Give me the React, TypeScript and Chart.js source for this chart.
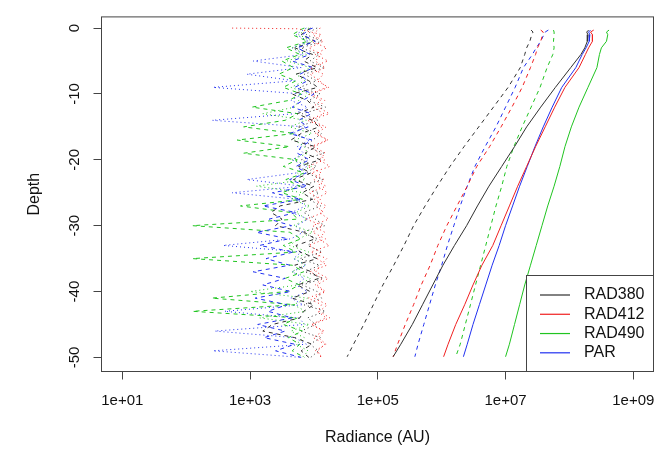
import React, { useEffect, useRef } from "react";
import { Chart, registerables } from "chart.js";

Chart.register(...registerables);

const FONT = "'Liberation Sans', Arial, Helvetica, sans-serif";

// ---- legend / series ----
const seriesNames = ["RAD380", "RAD412", "RAD490", "PAR"];
const seriesColors = ["#303030", "#f02020", "#20c420", "#2030f0"];

// ---- axes ----
const xTickValues = [1e1, 1e3, 1e5, 1e7, 1e9];
const xTickLabels = ["1e+01", "1e+03", "1e+05", "1e+07", "1e+09"];
const yTickValues = [0, -10, -20, -30, -40, -50];
const yTickLabels = ["0", "-10", "-20", "-30", "-40", "-50"];
const xMin = 4.725;
const xMax = 2.07e9;
const yMin = -52.14;
const yMax = 1.7;

// ---- smooth profiles (log10 radiance) ----
const profileDepths = [-0.3, -0.6, -1, -2, -3, -4, -6, -9, -12, -15, -18, -21, -24, -27, -30, -33, -36, -39, -42, -45, -48, -49.9];

const rad380Solid = [8.30, 8.27, 8.29, 8.28, 8.24, 8.18, 8.02, 7.78, 7.55, 7.33, 7.14, 6.94, 6.74, 6.56, 6.39, 6.20, 6.02, 5.86, 5.70, 5.54, 5.36, 5.24];
const rad412Solid = [8.38, 8.33, 8.36, 8.36, 8.30, 8.25, 8.15, 7.93, 7.77, 7.62, 7.47, 7.33, 7.19, 7.06, 6.93, 6.80, 6.63, 6.49, 6.36, 6.22, 6.10, 6.03];
const rad490Solid = [8.62, 8.58, 8.60, 8.58, 8.50, 8.47, 8.43, 8.29, 8.15, 8.03, 7.93, 7.85, 7.76, 7.66, 7.57, 7.48, 7.39, 7.30, 7.22, 7.14, 7.06, 7.00];
const parSolid = [8.33, 8.30, 8.32, 8.31, 8.26, 8.20, 8.10, 7.88, 7.73, 7.59, 7.46, 7.34, 7.22, 7.11, 7.00, 6.90, 6.79, 6.69, 6.59, 6.49, 6.40, 6.34];

const rad380Dash = [7.40, 7.43, 7.41, 7.38, 7.33, 7.30, 7.23, 7.04, 6.81, 6.58, 6.35, 6.13, 5.93, 5.74, 5.56, 5.41, 5.25, 5.08, 4.93, 4.78, 4.62, 4.52];
const rad412Dash = [7.55, 7.59, 7.58, 7.55, 7.50, 7.47, 7.39, 7.26, 7.10, 6.93, 6.75, 6.55, 6.40, 6.24, 6.08, 5.94, 5.82, 5.68, 5.56, 5.43, 5.31, 5.24];
const rad490Dash = [7.75, 7.76, 7.76, 7.75, 7.76, 7.74, 7.65, 7.54, 7.40, 7.26, 7.13, 7.02, 6.94, 6.85, 6.77, 6.69, 6.61, 6.53, 6.45, 6.37, 6.29, 6.22];
const parDash = [7.67, 7.62, 7.60, 7.55, 7.48, 7.42, 7.28, 7.15, 7.00, 6.85, 6.68, 6.52, 6.40, 6.29, 6.19, 6.09, 6.00, 5.90, 5.81, 5.72, 5.63, 5.58];

// ---- noisy dark readings (log10 radiance) ----
const noiseDepths = [0, -0.1, -1, -2, -3, -4, -5, -6, -7, -8, -9, -10, -11, -12, -13, -14, -15, -16, -17, -18, -19, -20, -21, -22, -23, -24, -25, -26, -27, -28, -29, -30, -31, -32, -33, -34, -35, -36, -37, -38, -39, -40, -41, -42, -43, -44, -45, -46, -47, -48, -49, -50];

const rad380NoiseDash = [
  3.95, 3.93, 3.80, 4.02, 3.70, 3.98, 3.84, 4.05, 3.72, 3.92,
  4.06, 3.66, 3.90, 4.00, 3.74, 3.97, 4.08, 3.80, 3.64, 4.03,
  3.86, 4.10, 3.76, 3.95, 3.68, 4.00, 3.82, 3.98, 3.47, 3.33,
  3.50, 3.40, 3.85, 4.02, 3.72, 3.78, 4.05, 3.70, 3.96, 4.08,
  3.74, 3.94, 3.66, 4.00, 3.84, 3.78, 3.35, 3.20, 3.70, 3.97,
  3.80, 3.92,
];
const rad380NoiseDot = [
  4.05, 4.02, 3.88, 4.12, 3.80, 4.08, 3.94, 4.15, 3.85, 4.04,
  3.78, 4.10, 3.92, 4.18, 3.82, 4.06, 3.74, 4.12, 3.98, 3.86,
  4.16, 3.80, 4.04, 3.88, 4.14, 3.76, 4.08, 3.92, 4.11, 3.84,
  4.02, 4.17, 3.80, 4.06, 3.90, 4.13, 3.78, 4.09, 3.86, 4.15,
  3.82, 4.05, 4.12, 3.84, 4.18, 3.90, 4.03, 3.80, 4.10, 3.94,
  4.07, 3.95,
];
const rad412NoiseDash = [
  4.10, 4.08, 3.98, 4.15, 3.92, 4.12, 4.02, 4.18, 3.94, 4.09,
  4.20, 3.92, 4.11, 3.98, 4.16, 3.90, 4.13, 4.02, 4.21, 3.95,
  4.08, 4.17, 3.90, 4.12, 4.00, 4.19, 3.93, 4.10, 4.04, 4.15,
  3.88, 4.14, 3.98, 4.18, 3.92, 4.11, 4.05, 4.20, 3.94, 4.13,
  4.02, 4.16, 3.91, 4.12, 4.06, 4.19, 3.96, 4.14, 3.99, 4.17,
  4.06, 4.11,
];
const rad412NoiseDot = [
  2.72, 3.75, 4.12, 3.96, 4.20, 4.02, 4.22, 3.93, 4.15, 4.05,
  4.23, 3.97, 4.17, 4.07, 4.24, 3.94, 4.19, 4.04, 4.22, 4.00,
  4.18, 4.08, 4.25, 3.96, 4.16, 4.06, 4.21, 4.01, 4.19, 4.09,
  4.23, 3.98, 4.17, 4.07, 4.24, 3.95, 4.20, 4.10, 4.03, 4.22,
  4.05, 4.18, 4.00, 4.21, 4.09, 4.25, 3.97, 4.16, 4.07, 4.19,
  4.02, 4.14,
];
const rad490NoiseDash = [
  3.85, 3.82, 3.66, 3.90, 3.56, 3.78, 3.50, 3.68, 3.45, 3.72,
  3.52, 3.80, 3.60, 3.03, 3.75, 3.55, 2.90, 3.70, 2.80, 3.62,
  2.90, 3.74, 3.52, 3.85, 3.56, 3.78, 3.50, 3.82, 2.85, 3.64,
  3.75, 2.10, 3.62, 3.80, 3.52, 3.72, 2.10, 3.66, 3.84, 3.55,
  3.77, 3.58, 2.40, 3.70, 2.10, 3.74, 3.52, 3.82, 3.60, 3.78,
  3.66, 3.85,
];
const rad490NoiseDot = [
  3.92, 3.90, 3.76, 3.98, 3.66, 3.88, 3.58, 3.95, 3.72, 3.86,
  3.64, 3.93, 3.76, 3.70, 3.20, 3.88, 3.62, 3.97, 3.70, 3.85,
  3.90, 3.66, 3.96, 3.74, 3.87, 3.10, 3.84, 3.64, 3.94, 3.72,
  3.89, 3.68, 3.98, 3.76, 3.62, 3.92, 3.70, 3.86, 3.65, 3.95,
  3.75, 3.00, 3.90, 3.68, 3.87, 3.15, 3.93, 3.64, 3.85, 3.72,
  3.91, 3.82,
];
const parNoiseDash = [
  3.98, 3.95, 3.82, 4.02, 3.74, 3.94, 3.66, 3.99, 3.78, 3.90,
  3.70, 4.00, 3.82, 3.66, 3.96, 3.76, 3.91, 3.62, 3.97, 3.80,
  3.74, 3.93, 3.72, 3.88, 3.62, 3.90, 3.35, 3.80, 3.20, 3.72,
  3.30, 3.65, 3.10, 3.60, 3.15, 3.68, 3.25, 3.62, 3.05, 3.55,
  3.20, 3.64, 3.08, 3.58, 3.28, 3.66, 3.12, 3.55, 3.22, 3.70,
  3.40, 3.80,
];
const parNoiseDot = [
  3.88, 3.86, 3.72, 3.92, 3.66, 3.84, 3.05, 3.80, 2.95, 3.70,
  2.42, 3.82, 3.64, 3.90, 3.70, 2.41, 3.86, 3.68, 3.93, 3.74,
  3.84, 3.66, 3.89, 3.72, 2.95, 3.82, 2.72, 3.74, 3.87, 3.65,
  3.91, 3.72, 3.83, 3.64, 2.58, 3.80, 3.68, 3.88, 3.66, 3.85,
  3.72, 3.90, 3.64, 3.83, 2.60, 3.76, 3.86, 2.45, 3.70, 3.88,
  2.42, 3.80,
];

const DASH = [4, 4];
const DOT = [1, 3];

type Spec = { logs: number[]; depths: number[]; color: string; dash: number[] };

const specs: Spec[] = [
  { logs: rad380Solid, depths: profileDepths, color: seriesColors[0], dash: [] },
  { logs: rad412Solid, depths: profileDepths, color: seriesColors[1], dash: [] },
  { logs: rad490Solid, depths: profileDepths, color: seriesColors[2], dash: [] },
  { logs: parSolid, depths: profileDepths, color: seriesColors[3], dash: [] },
  { logs: rad380Dash, depths: profileDepths, color: seriesColors[0], dash: DASH },
  { logs: rad412Dash, depths: profileDepths, color: seriesColors[1], dash: DASH },
  { logs: rad490Dash, depths: profileDepths, color: seriesColors[2], dash: DASH },
  { logs: parDash, depths: profileDepths, color: seriesColors[3], dash: DASH },
  { logs: parNoiseDash, depths: noiseDepths, color: seriesColors[3], dash: DASH },
  { logs: rad380NoiseDash, depths: noiseDepths, color: seriesColors[0], dash: DASH },
  { logs: rad490NoiseDash, depths: noiseDepths, color: seriesColors[2], dash: DASH },
  { logs: rad412NoiseDash, depths: noiseDepths, color: seriesColors[1], dash: DOT },
  { logs: rad380NoiseDot, depths: noiseDepths, color: seriesColors[0], dash: DOT },
  { logs: rad412NoiseDot, depths: noiseDepths, color: seriesColors[1], dash: DOT },
  { logs: rad490NoiseDot, depths: noiseDepths, color: seriesColors[2], dash: DOT },
  { logs: parNoiseDot, depths: noiseDepths, color: seriesColors[3], dash: DOT },
];

const frameLegendPlugin = {
  id: "frameLegend",
  afterDraw(chart: any) {
    const { ctx, chartArea: a } = chart;
    ctx.save();
    ctx.setLineDash([]);
    ctx.lineWidth = 1;
    ctx.strokeStyle = "#444";
    ctx.strokeRect(a.left, a.top, a.right - a.left, a.bottom - a.top);
    const w = 127;
    const h = 96;
    const lx = a.right - w;
    const ly = a.bottom - h;
    ctx.fillStyle = "#fff";
    ctx.fillRect(lx, ly, w, h);
    ctx.strokeRect(lx, ly, w, h);
    ctx.font = `16px ${FONT}`;
    ctx.textBaseline = "middle";
    ctx.textAlign = "left";
    seriesNames.forEach((name, i) => {
      const y = ly + 19.5 + i * 19.27;
      ctx.strokeStyle = seriesColors[i];
      ctx.lineWidth = 1.2;
      ctx.beginPath();
      ctx.moveTo(lx + 13.5, y);
      ctx.lineTo(lx + 43.5, y);
      ctx.stroke();
      ctx.fillStyle = "#111";
      ctx.fillText(name, lx + 57.5, y);
    });
    ctx.restore();
  },
};

export default function App() {
  const ref = useRef<HTMLCanvasElement>(null);
  useEffect(() => {
    if (!ref.current) return;
    const datasets = specs.map((s) => ({
      data: s.logs.map((v, i) => ({ x: Math.pow(10, v), y: s.depths[i] })),
      borderColor: s.color,
      backgroundColor: s.color,
      borderWidth: 1,
      borderDash: s.dash,
      showLine: true,
      pointRadius: 0,
      tension: 0,
      fill: false,
    }));
    const chart = new Chart(ref.current, {
      type: "scatter",
      data: { datasets },
      options: {
        animation: false,
        responsive: false,
        events: [],
        layout: { padding: { left: 0, top: 7.5, right: 16.5, bottom: 0 } },
        plugins: { legend: { display: false }, tooltip: { enabled: false } },
        scales: {
          x: {
            type: "logarithmic",
            position: "bottom",
            min: xMin,
            max: xMax,
            afterBuildTicks: (s: any) => {
              s.ticks = xTickValues.map((v) => ({ value: v }));
            },
            afterFit: (s: any) => {
              s.height = 77.5;
            },
            ticks: {
              autoSkip: false,
              minRotation: 0,
              maxRotation: 0,
              padding: 12.5,
              color: "#111",
              font: { family: FONT, size: 15 },
              callback: (_v: any, i: number) => xTickLabels[i],
            },
            grid: { drawOnChartArea: false, drawTicks: true, tickLength: 8, color: "#444", lineWidth: 1 },
            border: { display: false },
            title: {
              display: true,
              text: "Radiance (AU)",
              color: "#111",
              font: { family: FONT, size: 16 },
              padding: { top: 0, bottom: 1.4 },
            },
          },
          y: {
            type: "linear",
            position: "left",
            min: yMin,
            max: yMax,
            afterBuildTicks: (s: any) => {
              s.ticks = yTickValues.map((v) => ({ value: v }));
            },
            afterFit: (s: any) => {
              s.width = 101.5;
            },
            ticks: {
              autoSkip: false,
              minRotation: 90,
              maxRotation: 90,
              crossAlign: "center",
              padding: 7.9,
              color: "#111",
              font: { family: FONT, size: 15 },
              callback: (_v: any, i: number) => yTickLabels[i],
            },
            grid: { drawOnChartArea: false, drawTicks: true, tickLength: 8, color: "#444", lineWidth: 1 },
            border: { display: false },
            title: {
              display: true,
              text: "Depth",
              color: "#111",
              font: { family: FONT, size: 16 },
              padding: { top: 25.4, bottom: 0 },
            },
          },
        },
      } as any,
      plugins: [frameLegendPlugin],
    });
    return () => chart.destroy();
  }, []);
  return (
    <div style={{ position: "absolute", left: 0, top: 0, width: 670, height: 449, background: "#fff" }}>
      <canvas ref={ref} width={670} height={449} style={{ display: "block", width: 670, height: 449 }} />
    </div>
  );
}
